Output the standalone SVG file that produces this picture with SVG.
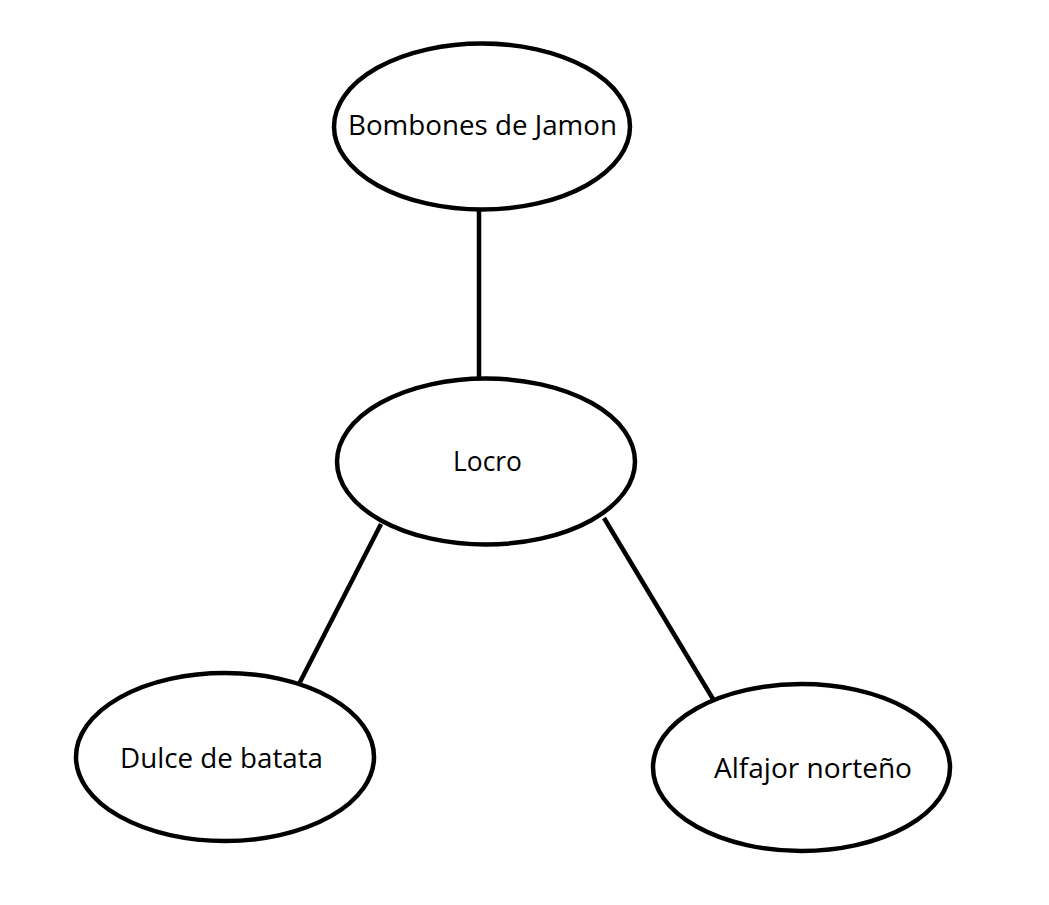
<svg xmlns="http://www.w3.org/2000/svg" width="1049" height="905" viewBox="0 0 1049 905">
<style>
.node ellipse{fill:#fff;stroke:#000;stroke-width:4.5}
.node text{font-family:"Open Sans","Noto Sans",sans-serif;font-size:26.5px;fill:#000}
.edges line{stroke:#000;stroke-width:4.5}
</style>
<rect width="1049" height="905" fill="#fff"/>
<g class="edges">
<line x1="479" y1="210" x2="479" y2="380"/>
<line x1="381" y1="524" x2="299" y2="684"/>
<line x1="604" y1="518" x2="713" y2="699"/>
</g>
<g id="bombones" class="node">
<ellipse cx="482" cy="126.5" rx="148" ry="83"/>
<text x="348" y="135" textLength="269" lengthAdjust="spacingAndGlyphs">Bombones de Jamon</text>
</g>
<g id="locro" class="node">
<ellipse cx="486" cy="461.5" rx="149" ry="83"/>
<text x="453" y="471" textLength="69" lengthAdjust="spacingAndGlyphs">Locro</text>
</g>
<g id="dulce" class="node">
<ellipse cx="225" cy="757" rx="149" ry="84"/>
<text x="120" y="768" textLength="203" lengthAdjust="spacingAndGlyphs">Dulce de batata</text>
</g>
<g id="alfajor" class="node">
<ellipse cx="801.5" cy="767.5" rx="148.5" ry="83.5"/>
<text x="714" y="778" textLength="198" lengthAdjust="spacingAndGlyphs">Alfajor norteño</text>
</g>
</svg>
